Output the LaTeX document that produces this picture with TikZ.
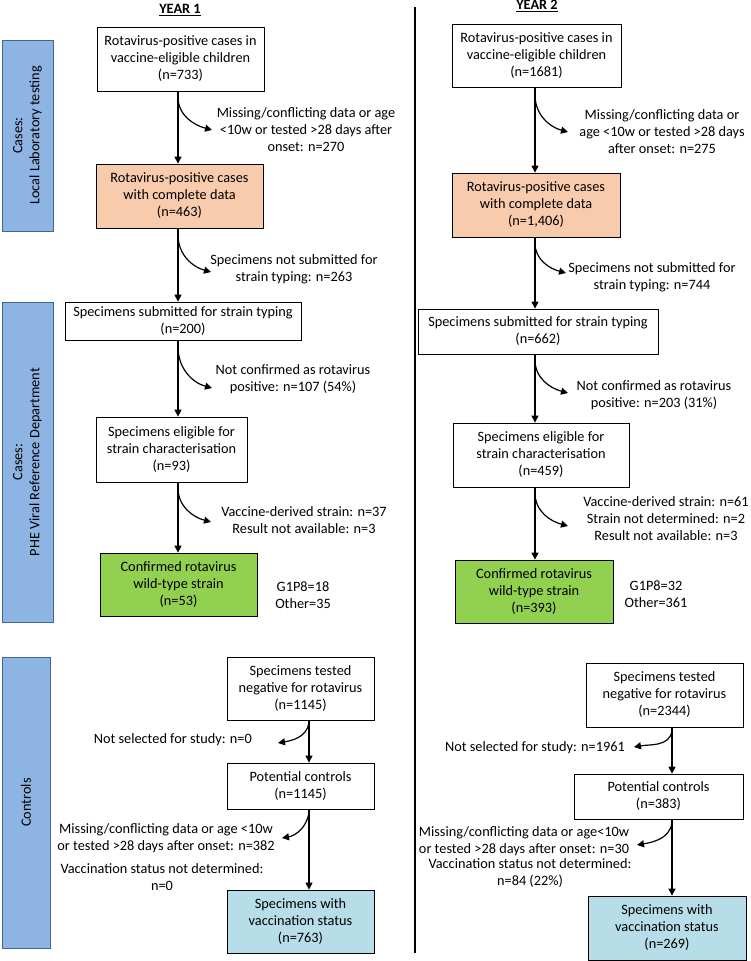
\documentclass[tikz,border=0pt]{standalone}
\usepackage{fontspec}
\setmainfont{Carlito}
\usetikzlibrary{arrows.meta}
\definecolor{orangebox}{HTML}{F8CBAD}
\definecolor{greenbox}{HTML}{92D050}
\definecolor{bluebox}{HTML}{B7DEE8}
\definecolor{sidefill}{HTML}{8EB4E3}
\definecolor{sidedraw}{HTML}{41669A}
\begin{document}
\begin{tikzpicture}[x=1pt,y=-1pt,
  font=\fontsize{14.3}{17}\selectfont,
  box/.style={draw=black, line width=0.8pt, align=center, inner sep=0pt},
  side/.style={draw=sidedraw, fill=sidefill, line width=0.8pt, align=center, inner sep=0pt, rotate=90},
  lbl/.style={align=center, inner sep=0pt},
  arr/.style={line width=1.2pt, -{Triangle[length=7pt,width=7pt]}},
  hdr/.style={inner sep=0pt, font=\fontsize{14.3}{17}\selectfont\bfseries}
]
\useasboundingbox (0,0) rectangle (750,961);

% headers and divider
\node[hdr] (h1) at (180,10) {\underline{YEAR 1}};
\node[hdr] (h2) at (537,6) {\underline{YEAR 2}};
\coordinate (dtop) at (415,7);
\coordinate (dbot) at (415,953);
\draw[line width=2.2pt] (dtop) -- (dbot);

% side bars
\node[side, minimum width=191pt, minimum height=51pt] (S1) at (27.5,135.5) {Cases:\\Local Laboratory testing};
\node[side, minimum width=320pt, minimum height=51pt] (S2) at (27.5,462) {Cases:\\PHE Viral Reference Department};
\node[side, minimum width=291pt, minimum height=48pt] (S3) at (26,802.5) {Controls};

% ---------------- YEAR 1 cases
\coordinate (xa) at (178,0);
\node[box, minimum width=167pt, minimum height=64pt] (B1) at (180.5,59) {Rotavirus-positive cases in\\vaccine-eligible children\\(n=733)};
\node[box, fill=orangebox, minimum width=167pt, minimum height=64pt] (B2) at (179.5,196) {Rotavirus-positive cases\\with complete data\\(n=463)};
\node[box, minimum width=236pt, minimum height=38pt] (B3) at (183,321) {Specimens submitted for strain typing\\(n=200)};
\node[box, minimum width=151pt, minimum height=65pt] (B4) at (171.5,449.5) {Specimens eligible for\\strain characterisation\\(n=93)};
\node[box, fill=greenbox, minimum width=157pt, minimum height=63pt] (B5) at (178.5,584.5) {Confirmed rotavirus\\wild-type strain\\(n=53)};

\draw[arr] (B1.south -| xa) -- (B2.north -| xa);
\draw[arr] (B2.south -| xa) -- (B3.north -| xa);
\draw[arr] (B3.south -| xa) -- (B4.north -| xa);
\draw[arr] (B4.south -| xa) -- (B5.north -| xa);

\coordinate (a1s) at (178,97);  \coordinate (a1t) at (212,130);
\coordinate (a2s) at (178,235); \coordinate (a2t) at (211,272);
\coordinate (a3s) at (178,347); \coordinate (a3t) at (212,388);
\coordinate (a4s) at (178,488); \coordinate (a4t) at (211,522);
\draw[arr] (a1s) to[out=-90,in=165] (a1t);
\draw[arr] (a2s) to[out=-90,in=165] (a2t);
\draw[arr] (a3s) to[out=-90,in=165] (a3t);
\draw[arr] (a4s) to[out=-90,in=165] (a4t);

\node[lbl] (L1) at (306,130) {Missing/conflicting data or age\\<10w or tested >28 days after\\onset: n=270};
\node[lbl] (L2) at (294,269.5) {Specimens not submitted for\\strain typing: n=263};
\node[lbl] (L3) at (293,379) {Not confirmed as rotavirus\\positive: n=107 (54\%)};
\node[lbl] (L4) at (304,520) {Vaccine-derived strain: n=37\\Result not available: n=3};
\node[lbl] (L5) at (303,595) {G1P8=18\\Other=35};

% ---------------- YEAR 2 cases
\coordinate (xb) at (535,0);
\node[box, minimum width=169pt, minimum height=63pt] (C1) at (536.5,55.5) {Rotavirus-positive cases in\\vaccine-eligible children\\(n=1681)};
\node[box, fill=orangebox, minimum width=168pt, minimum height=64pt] (C2) at (536,205) {Rotavirus-positive cases\\with complete data\\(n=1,406)};
\node[box, minimum width=240pt, minimum height=45pt] (C3) at (538,331.5) {Specimens submitted for strain typing\\(n=662)};
\node[box, minimum width=176pt, minimum height=64pt] (C4) at (541,455) {Specimens eligible for\\strain characterisation\\(n=459)};
\node[box, fill=greenbox, minimum width=158pt, minimum height=63pt] (C5) at (534,591.5) {Confirmed rotavirus\\wild-type strain\\(n=393)};

\draw[arr] (C1.south -| xb) -- (C2.north -| xb);
\draw[arr] (C2.south -| xb) -- (C3.north -| xb);
\draw[arr] (C3.south -| xb) -- (C4.north -| xb);
\draw[arr] (C4.south -| xb) -- (C5.north -| xb);

\coordinate (b1s) at (535,95);  \coordinate (b1t) at (568,132);
\coordinate (b2s) at (535,243); \coordinate (b2t) at (566,273);
\coordinate (b3s) at (535,360); \coordinate (b3t) at (568,393);
\coordinate (b4s) at (535,493); \coordinate (b4t) at (568,526);
\draw[arr] (b1s) to[out=-90,in=165] (b1t);
\draw[arr] (b2s) to[out=-90,in=165] (b2t);
\draw[arr] (b3s) to[out=-90,in=165] (b3t);
\draw[arr] (b4s) to[out=-90,in=165] (b4t);

\node[lbl] (M1) at (662,132) {Missing/conflicting data or\\age <10w or tested >28 days\\after onset: n=275};
\node[lbl] (M2) at (652,277.5) {Specimens not submitted for\\strain typing: n=744};
\node[lbl] (M3) at (654,395) {Not confirmed as rotavirus\\positive: n=203 (31\%)};
\node[lbl] (M4) at (666,519) {Vaccine-derived strain: n=61\\Strain not determined: n=2\\Result not available: n=3};
\node[lbl] (M5) at (656,594) {G1P8=32\\Other=361};

% ---------------- YEAR 1 controls
\coordinate (xc) at (309,0);
\node[box, minimum width=147pt, minimum height=63pt] (D1) at (300.5,688.5) {Specimens tested\\negative for rotavirus\\(n=1145)};
\node[box, minimum width=147pt, minimum height=46pt] (D2) at (300.5,786) {Potential controls\\(n=1145)};
\node[box, fill=bluebox, minimum width=147pt, minimum height=63pt] (D3) at (300.5,921.5) {Specimens with\\vaccination status\\(n=763)};
\draw[arr] (D1.south -| xc) -- (D2.north -| xc);
\draw[arr] (D2.south -| xc) -- (D3.north -| xc);
\coordinate (c1s) at (309,723); \coordinate (c1t) at (278,743);
\coordinate (c2s) at (309,813); \coordinate (c2t) at (282,838);
\draw[arr] (c1s) to[out=-100,in=10] (c1t);
\draw[arr] (c2s) to[out=-100,in=10] (c2t);
\node[lbl, anchor=east] (N1) at (252,740) {Not selected for study: n=0};
\node[lbl] (N2) at (166,838) {Missing/conflicting data or age <10w\\or tested >28 days after onset: n=382};
\node[lbl] (N3) at (162,877.5) {Vaccination status not determined:\\n=0};

% ---------------- YEAR 2 controls
\coordinate (xd) at (672,0);
\node[box, minimum width=157pt, minimum height=64pt] (E1) at (664.5,695) {Specimens tested\\negative for rotavirus\\(n=2344)};
\node[box, minimum width=169pt, minimum height=45pt] (E2) at (658.5,796.5) {Potential controls\\(n=383)};
\node[box, fill=bluebox, minimum width=158pt, minimum height=64pt] (E3) at (667,928) {Specimens with\\vaccination status\\(n=269)};
\draw[arr] (E1.south -| xd) -- (E2.north -| xd);
\draw[arr] (E2.south -| xd) -- (E3.north -| xd);
\coordinate (d1s) at (672,731); \coordinate (d1t) at (634,747);
\coordinate (d2s) at (672,823); \coordinate (d2t) at (637,845);
\draw[arr] (d1s) to[out=-100,in=10] (d1t);
\draw[arr] (d2s) to[out=-100,in=10] (d2t);
\node[lbl, anchor=east] (P1) at (625,748) {Not selected for study: n=1961};
\node[lbl] (P2) at (524,841) {Missing/conflicting data or age<10w\\or tested >28 days after onset: n=30};
\node[lbl] (P3) at (530,873.5) {Vaccination status not determined:\\n=84 (22\%)};
\end{tikzpicture}
\end{document}
